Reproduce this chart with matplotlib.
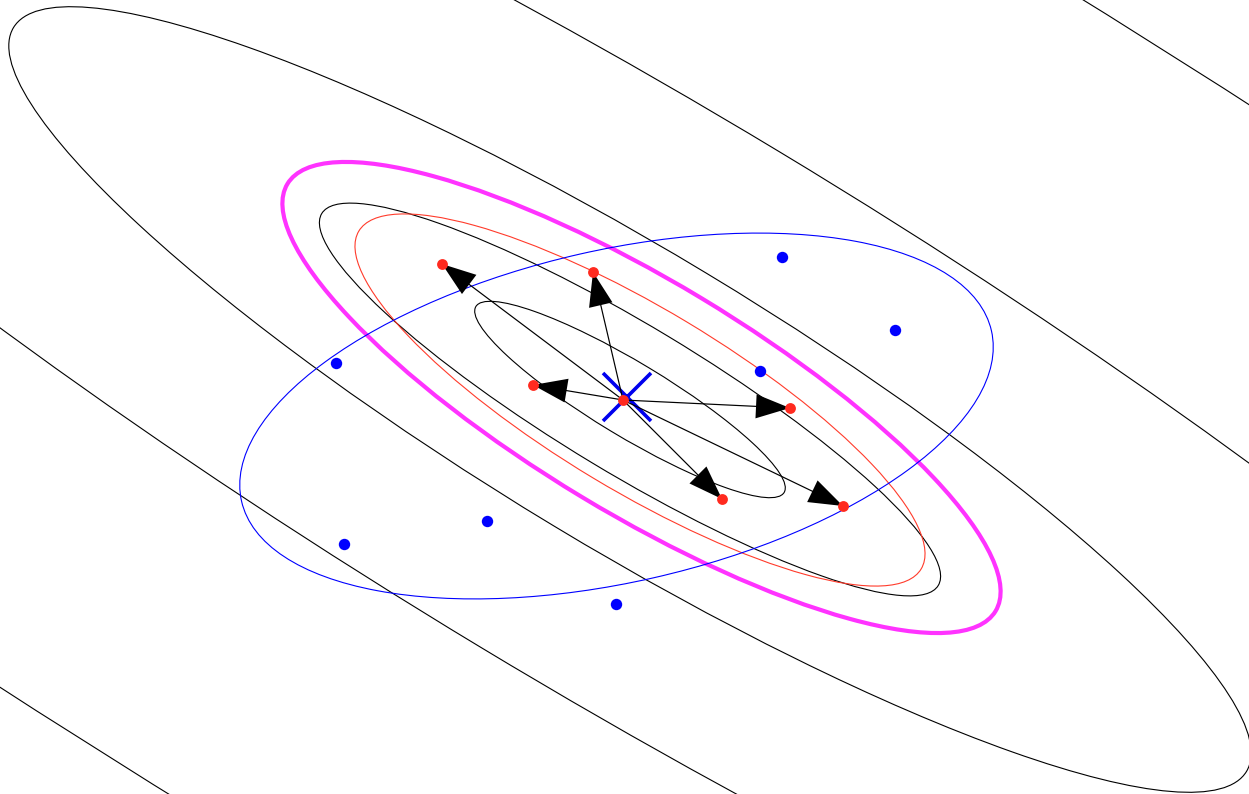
import matplotlib
matplotlib.use("Agg")
from matplotlib import pyplot as plt
from matplotlib.patches import Ellipse

# 坐标单位：横向 0~12.49，纵向 0~7.94
# 先验分布的等概率线（同心，尺度大约成倍增长）
prior_center = (6.30, 3.945)
prior_w, prior_h, prior_angle = 3.60, 0.738, -31.1
prior_scales = [1, 2, 4, 7.84, 15.65]

# sigma 点（第一个是均值）
sigma_x = [6.23, 4.42, 5.93, 5.33, 7.90, 7.22, 8.43]
sigma_y = [3.94, 5.30, 5.22, 4.09, 3.86, 2.95, 2.88]

# 采样点
sample_x = [7.82, 8.95, 7.60, 3.36, 3.44, 4.87, 6.16]
sample_y = [5.37, 4.64, 4.23, 4.31, 2.50, 2.73, 1.90]

# 采样均值
sample_mean = (6.267, 3.973)

# 其他几个协方差椭圆: (中心, 宽, 高, 角度)
red_ell = ((6.40, 3.94), 6.56, 1.82, -31.0)
magenta_ell = ((6.415, 3.965), 8.27, 2.32, -31.1)
blue_ell = ((6.165, 3.78), 7.69, 3.32, 12.8)

fig = plt.figure(figsize=(12.49, 7.94), dpi=100)
ax = fig.add_axes([0, 0, 1, 1])
ax.set_xlim(0, 12.49)
ax.set_ylim(0, 7.94)
ax.axis("off")

# 等概率线
for s in prior_scales:
    ax.add_patch(Ellipse(prior_center, prior_w * s, prior_h * s, angle=prior_angle,
                         fill=False, ec="black", lw=0.8, zorder=1))

c, w, h, a = red_ell
ax.add_patch(Ellipse(c, w, h, angle=a, fill=False, ec="#ff3b2b", lw=0.8, zorder=2))
c, w, h, a = magenta_ell
ax.add_patch(Ellipse(c, w, h, angle=a, fill=False, ec="#ff33ff", lw=3.0, zorder=2))
c, w, h, a = blue_ell
ax.add_patch(Ellipse(c, w, h, angle=a, fill=False, ec="#0000ff", lw=0.8, zorder=2))

# 均值标记
ax.plot(sample_mean[0], sample_mean[1], marker="x", ms=34, mew=2.6,
        color="#0000ee", ls="none", zorder=3)

# 从均值指向各个 sigma 点的箭头
x0, y0 = sigma_x[0], sigma_y[0]
for x, y in zip(sigma_x[1:], sigma_y[1:]):
    ax.arrow(x0, y0, x - x0, y - y0, width=0.012, head_width=0.24, head_length=0.34,
             length_includes_head=True, fc="black", ec="none", zorder=4)

ax.plot(sigma_x, sigma_y, "o", color="#ff2a1f", ms=7.8, mec="none", zorder=5)
ax.plot(sample_x, sample_y, "o", color="#0000ff", ms=8.2, mec="none", zorder=5)

plt.savefig("out.png", dpi=100)
